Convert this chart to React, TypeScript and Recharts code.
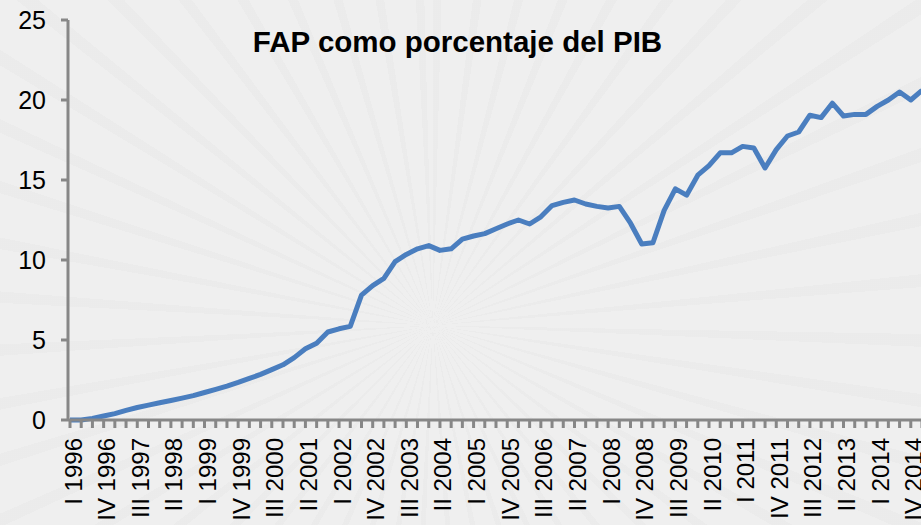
import { Line, LineChart, XAxis, YAxis } from 'recharts'

const CHART_TITLE = 'FAP como porcentaje del PIB'

// quarters from I 1996 to I 2015 (the last one is cut by the picture edge)
const QUARTERS = [
  'I 1996', 'II 1996', 'III 1996', 'IV 1996',
  'I 1997', 'II 1997', 'III 1997', 'IV 1997',
  'I 1998', 'II 1998', 'III 1998', 'IV 1998',
  'I 1999', 'II 1999', 'III 1999', 'IV 1999',
  'I 2000', 'II 2000', 'III 2000', 'IV 2000',
  'I 2001', 'II 2001', 'III 2001', 'IV 2001',
  'I 2002', 'II 2002', 'III 2002', 'IV 2002',
  'I 2003', 'II 2003', 'III 2003', 'IV 2003',
  'I 2004', 'II 2004', 'III 2004', 'IV 2004',
  'I 2005', 'II 2005', 'III 2005', 'IV 2005',
  'I 2006', 'II 2006', 'III 2006', 'IV 2006',
  'I 2007', 'II 2007', 'III 2007', 'IV 2007',
  'I 2008', 'II 2008', 'III 2008', 'IV 2008',
  'I 2009', 'II 2009', 'III 2009', 'IV 2009',
  'I 2010', 'II 2010', 'III 2010', 'IV 2010',
  'I 2011', 'II 2011', 'III 2011', 'IV 2011',
  'I 2012', 'II 2012', 'III 2012', 'IV 2012',
  'I 2013', 'II 2013', 'III 2013', 'IV 2013',
  'I 2014', 'II 2014', 'III 2014', 'IV 2014',
  'I 2015',
]

const FAP_PCT_PIB = [
  0.0, 0.0, 0.1, 0.25,
  0.4, 0.6, 0.78, 0.93,
  1.08, 1.22, 1.37, 1.52,
  1.72, 1.92, 2.12, 2.35,
  2.6, 2.85, 3.15, 3.45,
  3.9, 4.45, 4.8, 5.5,
  5.7, 5.85, 7.8, 8.4,
  8.85, 9.9, 10.35, 10.7,
  10.9, 10.6, 10.7, 11.3,
  11.5, 11.65, 11.95, 12.25,
  12.5, 12.25, 12.7, 13.4,
  13.6, 13.75, 13.5, 13.35,
  13.25, 13.35, 12.3, 11.0,
  11.08, 13.1, 14.45, 14.05,
  15.3, 15.9, 16.7, 16.7,
  17.1, 17.0, 15.75, 16.9,
  17.75, 18.0, 19.05, 18.9,
  19.8, 19.0, 19.1, 19.1,
  19.6, 20.0, 20.5, 20.0,
  20.6,
]

const Y_TICKS = [0, 5, 10, 15, 20, 25]
const LABEL_EVERY = 3

const AXIS_GRAY = '#878787'
const LINE_BLUE = '#4A7EBF'
const FONT = 'Arial, "Liberation Sans", sans-serif'

const chartData = QUARTERS.map((quarter, i) => ({ quarter, value: FAP_PCT_PIB[i] }))

function QuarterTick(props: any) {
  const { x, y, payload } = props
  const index = props.index ?? payload?.index ?? 0
  if (index % LABEL_EVERY !== 0) return <g />
  return (
    <text
      x={x}
      y={y}
      dy={11.5}
      transform={`rotate(-90, ${x}, ${y})`}
      textAnchor="end"
      fill="#000"
      fontSize={24}
      fontFamily={FONT}
    >
      {payload.value}
    </text>
  )
}

export default function App() {
  return (
    <div
      style={{
        position: 'fixed',
        left: 0,
        top: 0,
        width: 921,
        height: 525,
        overflow: 'hidden',
        backgroundColor: '#efefef',
        backgroundImage:
          'repeating-conic-gradient(from 0deg at 47% 62%, rgba(0,0,0,0.014) 0deg 1.5deg, rgba(0,0,0,0) 1.5deg 7deg)',
      }}
    >
      <div
        style={{
          position: 'absolute',
          left: 0,
          top: 27,
          width: 915,
          textAlign: 'center',
          fontFamily: FONT,
          fontWeight: 'bold',
          fontSize: 29.5,
          lineHeight: '30px',
          color: '#000',
        }}
      >
        {CHART_TITLE}
      </div>
      <LineChart
        width={922}
        height={560}
        data={chartData}
        margin={{ top: 20, right: 0, bottom: 0, left: 0 }}
      >
        <XAxis
          dataKey="quarter"
          interval={0}
          height={140}
          padding={{ left: 2, right: 0 }}
          axisLine={{ stroke: AXIS_GRAY, strokeWidth: 3 }}
          tickLine={{ stroke: AXIS_GRAY, strokeWidth: 3 }}
          tickSize={8}
          tickMargin={10}
          tick={QuarterTick}
        />
        <YAxis
          width={68}
          domain={[0, 25]}
          ticks={Y_TICKS}
          interval={0}
          axisLine={{ stroke: AXIS_GRAY, strokeWidth: 3 }}
          tickLine={{ stroke: AXIS_GRAY, strokeWidth: 3 }}
          tickSize={7}
          tickMargin={15}
          tick={{ fill: '#000', fontSize: 25, fontFamily: FONT }}
        />
        <Line
          dataKey="value"
          type="linear"
          stroke={LINE_BLUE}
          strokeWidth={5}
          strokeLinejoin="round"
          dot={false}
          activeDot={false}
          isAnimationActive={false}
        />
      </LineChart>
    </div>
  )
}
